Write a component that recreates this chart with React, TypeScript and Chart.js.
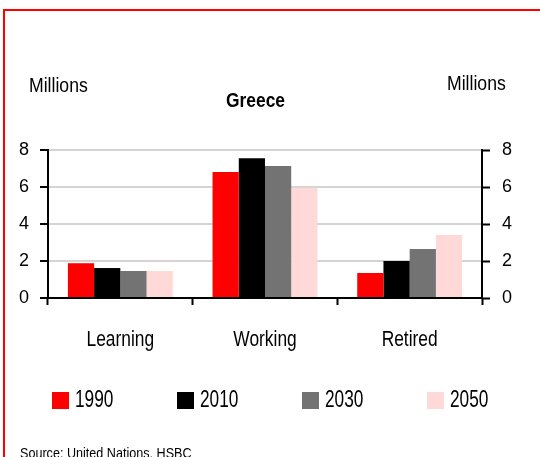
import React, { useEffect, useRef } from 'react';
import { Chart, registerables } from 'chart.js';

Chart.register(...registerables);

const categories = ['Learning', 'Working', 'Retired'];
const seriesLabels = ['1990', '2010', '2030', '2050'];
const values1990 = [1.88, 6.81, 1.35];
const values2010 = [1.62, 7.55, 2.0];
const values2030 = [1.46, 7.14, 2.65];
const values2050 = [1.46, 5.96, 3.4];
const seriesValues = [values1990, values2010, values2030, values2050];
const seriesColors = ['#ff0000', '#000000', '#737373', '#ffd8d8'];
const yMin = 0;
const yMax = 8;
const yStep = 2;
const titleText = 'Greece';
const unitText = 'Millions';
const sourceText = 'Source: United Nations, HSBC';

const FAMILY = "'Liberation Sans', Arial, sans-serif";

function drawCondensed(
  ctx: CanvasRenderingContext2D,
  text: string,
  x: number,
  y: number,
  font: string,
  sx: number,
  align: 'left' | 'center' | 'right'
) {
  ctx.save();
  ctx.font = font;
  ctx.textAlign = align;
  ctx.textBaseline = 'alphabetic';
  ctx.translate(x, y);
  ctx.scale(sx, 1);
  ctx.fillText(text, 0, 0);
  ctx.restore();
}

const decorations = {
  id: 'decorations',
  afterDraw(chart: any) {
    const ctx = chart.ctx as CanvasRenderingContext2D;
    ctx.save();
    // red frame
    ctx.strokeStyle = '#ff0000';
    ctx.lineWidth = 2;
    ctx.beginPath();
    ctx.moveTo(4, 460);
    ctx.lineTo(4, 10);
    ctx.lineTo(545, 10);
    ctx.stroke();

    ctx.fillStyle = '#000000';
    // title
    drawCondensed(ctx, titleText, 255.5, 107, `bold 20px ${FAMILY}`, 0.87, 'center');
    // unit labels
    drawCondensed(ctx, unitText, 29, 92, `21px ${FAMILY}`, 0.84, 'left');
    drawCondensed(ctx, unitText, 447, 90, `21px ${FAMILY}`, 0.84, 'left');
    // category labels, positioned by the x scale
    const xs = chart.scales.x;
    (chart.data.labels as string[]).forEach((lab, i) => {
      drawCondensed(ctx, lab, xs.getPixelForTick(i), 345.5, `22px ${FAMILY}`, 0.79, 'center');
    });
    // legend
    const ds = chart.data.datasets;
    ds.forEach((d: any, i: number) => {
      const x = 52 + i * 125;
      ctx.fillStyle = d.backgroundColor;
      ctx.fillRect(x, 392, 17, 17);
      ctx.fillStyle = '#000000';
      drawCondensed(ctx, d.label, x + 23, 407, `24px ${FAMILY}`, 0.72, 'left');
    });
    // source
    drawCondensed(ctx, sourceText, 20, 458, `15px ${FAMILY}`, 0.84, 'left');
    ctx.restore();
  },
};

export default function App() {
  const ref = useRef<HTMLCanvasElement>(null);
  useEffect(() => {
    if (!ref.current) return;
    const chart = new Chart(ref.current, {
      type: 'bar',
      data: {
        labels: categories,
        datasets: seriesLabels.map((label, i) => ({
          label,
          data: seriesValues[i],
          backgroundColor: seriesColors[i],
          borderWidth: 0,
          categoryPercentage: 0.725,
          barPercentage: 1,
          yAxisID: 'y',
        })),
      },
      options: {
        responsive: false,
        animation: false,
        layout: { padding: { top: 150, bottom: 119, left: 0, right: 0 } },
        plugins: {
          legend: { display: false },
          title: { display: false },
          tooltip: { enabled: false },
        },
        scales: {
          x: {
            offset: true,
            afterFit: (s: any) => { s.height = 40; },
            grid: {
              offset: true,
              drawOnChartArea: false,
              tickColor: '#000000',
              tickLength: 7,
              tickWidth: 2,
            },
            border: { color: '#000000', width: 2 },
            ticks: {
              color: 'rgba(0,0,0,0)',
              padding: 21,
              font: { family: FAMILY, size: 22 },
            },
          },
          y: {
            position: 'left',
            min: yMin,
            max: yMax,
            afterFit: (s: any) => { s.width = 48; },
            ticks: {
              stepSize: yStep,
              color: '#000000',
              padding: 11,
              font: { family: FAMILY, size: 18 },
            },
            grid: {
              color: (c: any) => (c.tick && c.tick.value === 0 ? 'rgba(0,0,0,0)' : '#d4d4d4'),
              lineWidth: 2,
              tickColor: '#000000',
              tickLength: 8,
              tickWidth: 2,
            },
            border: { color: '#000000', width: 2 },
          },
          y1: {
            position: 'right',
            min: yMin,
            max: yMax,
            afterFit: (s: any) => { s.width = 58; },
            ticks: {
              stepSize: yStep,
              color: '#000000',
              padding: 12,
              font: { family: FAMILY, size: 18 },
            },
            grid: {
              drawOnChartArea: false,
              tickColor: '#000000',
              tickLength: 8,
              tickWidth: 2,
            },
            border: { color: '#000000', width: 2 },
          },
        },
      },
      plugins: [decorations],
    } as any);
    return () => chart.destroy();
  }, []);
  return (
    <div style={{ position: 'fixed', left: 0, top: 0, width: 540, height: 457, background: '#ffffff' }}>
      <canvas ref={ref} width={540} height={457} style={{ display: 'block' }} />
    </div>
  );
}
